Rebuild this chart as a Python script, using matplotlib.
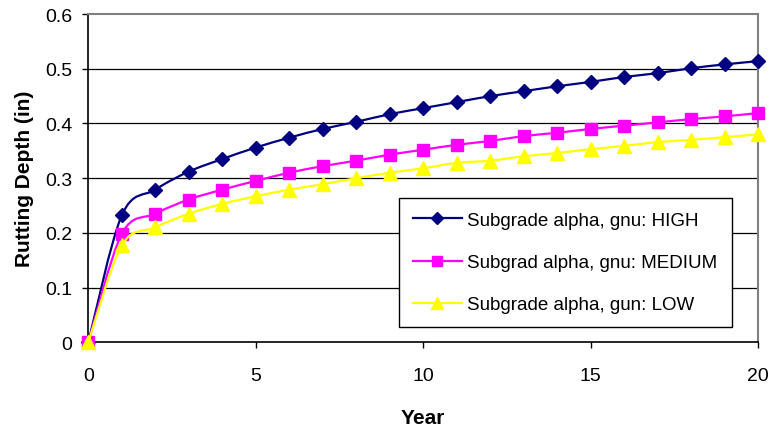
import matplotlib.pyplot as plt
import numpy as np
from matplotlib.path import Path
from matplotlib.patches import PathPatch
from matplotlib.lines import Line2D

plt.rcParams["font.family"] = ["Liberation Sans", "DejaVu Sans"]

years = list(range(0, 21))
high = [0.0, 0.232, 0.279, 0.312, 0.335, 0.356, 0.374, 0.390, 0.403, 0.417, 0.428,
        0.439, 0.450, 0.459, 0.468, 0.476, 0.485, 0.492, 0.501, 0.508, 0.514]
medium = [0.0, 0.198, 0.235, 0.261, 0.279, 0.295, 0.310, 0.322, 0.332, 0.343, 0.352,
          0.361, 0.368, 0.377, 0.383, 0.390, 0.396, 0.402, 0.408, 0.413, 0.419]
low = [0.0, 0.177, 0.210, 0.235, 0.253, 0.267, 0.279, 0.289, 0.300, 0.310, 0.318,
       0.328, 0.332, 0.340, 0.346, 0.353, 0.359, 0.366, 0.370, 0.375, 0.380]

labels = ["Subgrade alpha, gnu: HIGH", "Subgrad alpha, gnu: MEDIUM",
          "Subgrade alpha, gun: LOW"]
colors = ["#000080", "#FF00FF", "#FFFF00"]
markers = ["D", "s", "^"]
msizes = [7.5, 9, 10]


def smooth_path(x, y):
    # Excel-like smoothed line: Catmull-Rom segments as cubic Beziers
    p = np.column_stack([x, y]).astype(float)
    pts = np.vstack([p[0], p, p[-1]])
    verts = [p[0]]
    codes = [Path.MOVETO]
    for i in range(1, len(pts) - 2):
        p0, p1, p2, p3 = pts[i - 1], pts[i], pts[i + 1], pts[i + 2]
        c1 = p1 + (p2 - p0) / 6.0
        c2 = p2 - (p3 - p1) / 6.0
        verts += [c1, c2, p2]
        codes += [Path.CURVE4] * 3
    return Path(verts, codes)


fig = plt.figure(figsize=(7.69, 4.31), dpi=100)
ax = fig.add_axes([0.1148, 0.2035, 0.8709, 0.7615])

handles = []
for i, series in enumerate([high, medium, low]):
    ax.add_patch(PathPatch(smooth_path(years, series), fill=False,
                           edgecolor=colors[i], lw=1.6, zorder=3 + i * 2))
    ax.plot(years, series, linestyle="none", marker=markers[i], ms=msizes[i],
            color=colors[i], mec=colors[i], zorder=4 + i * 2, clip_on=False)
    handles.append(Line2D([], [], color=colors[i], lw=1.6, marker=markers[i],
                          ms=msizes[i] * 0.85, mec=colors[i]))

ax.set_xlim(0, 20)
ax.set_ylim(0, 0.6)
ax.set_xticks([0, 5, 10, 15, 20])
ax.set_yticks([0, 0.1, 0.2, 0.3, 0.4, 0.5, 0.6])
ax.set_yticklabels(["0", "0.1", "0.2", "0.3", "0.4", "0.5", "0.6"])
ax.tick_params(axis="both", direction="out", length=4.5, width=1, labelsize=14,
               colors="black")
ax.tick_params(axis="x", pad=13.5)
ax.tick_params(axis="y", pad=7)

for y in [0.1, 0.2, 0.3, 0.4, 0.5]:
    ax.axhline(y, color="black", lw=0.9, zorder=1)

ax.spines["top"].set_color("#808080")
ax.spines["right"].set_color("#808080")
ax.spines["top"].set_linewidth(1.5)
ax.spines["right"].set_linewidth(1.5)
ax.spines["left"].set_linewidth(1.2)
ax.spines["bottom"].set_linewidth(1.2)

ax.set_xlabel("Year", fontsize=15, fontweight="bold", labelpad=17)
ax.set_ylabel("Rutting Depth (in)", fontsize=15, fontweight="bold", labelpad=8)

leg = ax.legend(handles, labels, loc="lower left", bbox_to_anchor=(0.464, 0.046),
                fontsize=13.5, frameon=True, fancybox=False, framealpha=1,
                edgecolor="black", borderpad=0.75, labelspacing=1.33,
                handlelength=2.6, handletextpad=0.3, borderaxespad=0)
leg.get_frame().set_linewidth(1.0)
leg.set_zorder(10)

plt.savefig("out.png", dpi=100)
